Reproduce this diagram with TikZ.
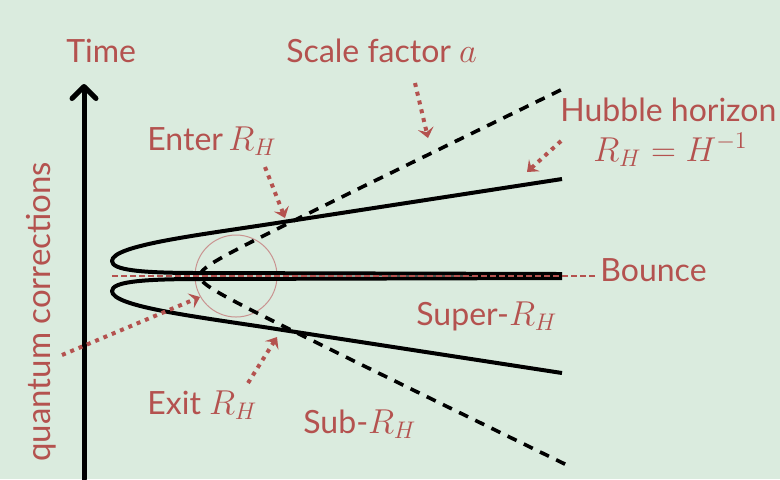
\documentclass[tikz,border=0pt]{standalone}
\usepackage[no-math]{fontspec}
\setmainfont{Lato}
\usepackage{amsmath}
\usepackage{tikz}
\usetikzlibrary{arrows.meta}

\definecolor{bgGreen}{HTML}{DAEBDE}
\definecolor{txtRed}{HTML}{B4524F}
\definecolor{ringRed}{HTML}{C99390}

% math in the labels is set a little larger than the words
\newcommand{\lblmath}[1]{{\fontsize{17.5}{19}\selectfont$#1$}}

\begin{document}
\begin{tikzpicture}[
        x=0.5pt, y=-0.5pt,
        lbl/.style={
            text=txtRed,
            inner sep=0pt,
            anchor=base west,
            font=\fontsize{16}{19}\selectfont
        },
        curve/.style={
            line width=2pt,
            line join=round
        },
        scalecurve/.style={
            line width=1.8pt,
            dash pattern=on 5pt off 4pt
        },
        pointer/.style={
            txtRed,
            line width=2pt,
            dash pattern=on 2pt off 2.5pt,
            -{Stealth[length=5pt,width=8pt,inset=2pt]}
        }
    ]

        % background and margins
        \fill[bgGreen] (0,0) rectangle (780,479);
        \useasboundingbox (0,0) rectangle (780,479);

        % time axis
        \coordinate (axisBot) at (84,479);
        \coordinate (axisTop) at (84,84);
        \draw[line width=2.5pt, line cap=round, -{Straight Barb[length=6pt,width=12pt,round]}] (axisBot) -- (axisTop);

        % circle at the bounce
        \draw[ringRed, line width=0.5pt] (236,276) circle[radius=41];

        % scale factor
        \draw[scalecurve] plot[domain=-3.56:3.56, samples=120, smooth]
            ({178+22*cosh(\x)}, {276-10.71*sinh(\x)});

        % Hubble horizon
        \draw[curve] (562,179) -- (283,222) .. controls (200,235) and (112,245) .. (112,261)
            .. controls (112,270) and (140,273) .. (200,273) -- (562,274);
        \draw[curve] (562,373) -- (283,330) .. controls (200,317) and (112,307) .. (112,291)
            .. controls (112,282) and (140,279) .. (200,279) -- (562,278);

        % bounce line
        \coordinate (bounceL) at (112,276);
        \coordinate (bounceR) at (596,276);
        \draw[txtRed, line width=0.7pt, dash pattern=on 3pt off 1.5pt] (bounceL) -- (bounceR);

        % labels
        \node[lbl] (time) at (66,62) {Time};
        \node[lbl] (scale) at (286,62) {Scale factor \lblmath{a}};
        \node[lbl] (hubble) at (560,121) {Hubble horizon};
        \node[lbl] (hubbleEq) at (593,161) {\lblmath{R_H = H^{-1}}};
        \node[lbl] (enter) at (147,150) {Enter\,\lblmath{R_H}};
        \node[lbl] (bounce) at (600,281) {Bounce};
        \node[lbl] (super) at (416,325) {Super-\lblmath{R_H}};
        \node[lbl] (exit) at (147,414) {Exit \lblmath{R_H}};
        \node[lbl] (sub) at (303,433) {Sub-\lblmath{R_H}};
        \node[lbl, rotate=90, font=\fontsize{16.5}{19}\selectfont] (quantum) at (50,462) {quantum corrections};

        % pointers
        \coordinate (scaleA) at (415,83);
        \coordinate (scaleB) at (428,138);
        \coordinate (hubbleA) at (561,141);
        \coordinate (hubbleB) at (527,172);
        \coordinate (enterA) at (265,167);
        \coordinate (enterB) at (285,218);
        \coordinate (exitA) at (248,383);
        \coordinate (exitB) at (277,337);
        \coordinate (quantumA) at (62,355);
        \coordinate (quantumB) at (200,297);

        \draw[pointer] (scaleA) -- (scaleB);
        \draw[pointer] (hubbleA) -- (hubbleB);
        \draw[pointer] (enterA) -- (enterB);
        \draw[pointer] (exitA) -- (exitB);
        \draw[pointer] (quantumA) -- (quantumB);

    \end{tikzpicture}
\end{document}
